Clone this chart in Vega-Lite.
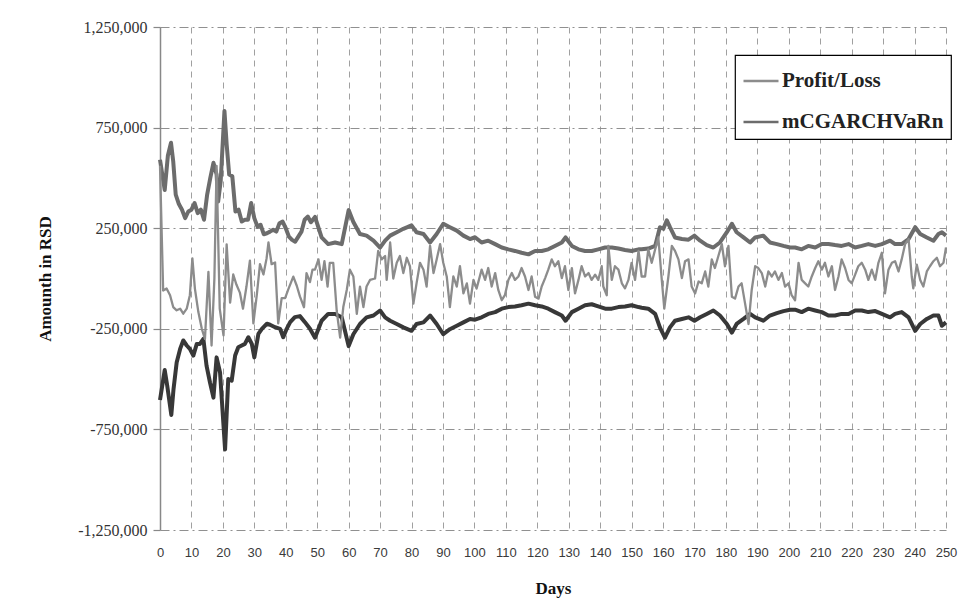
{
  "$schema": "https://vega.github.io/schema/vega-lite/v6.json",
  "width": 786,
  "height": 503,
  "autosize": {"type": "none"},
  "padding": {"left": 160, "top": 27, "right": 19, "bottom": 83},
  "background": "white",
  "datasets": {
    "up": [
      {"d":0,"v":590000},{"d":1.5,"v":440000},{"d":2.5,"v":610000},{"d":3.5,"v":675000},{"d":4.2,"v":583000},{"d":5,"v":417000},{"d":6,"v":370000},{"d":7,"v":342000},{"d":8,"v":300000},{"d":9,"v":333000},{"d":10,"v":342000},{"d":11,"v":375000},{"d":12,"v":325000},{"d":13,"v":342000},{"d":14,"v":292000},{"d":15,"v":417000},{"d":16,"v":500000},{"d":17,"v":575000},{"d":18,"v":517000},{"d":18.5,"v":383000},{"d":19.3,"v":483000},{"d":20.5,"v":833000},{"d":21.2,"v":667000},{"d":22,"v":517000},{"d":23,"v":508000},{"d":24,"v":333000},{"d":25,"v":342000},{"d":26,"v":283000},{"d":27,"v":292000},{"d":28,"v":292000},{"d":29,"v":375000},{"d":30,"v":300000},{"d":31,"v":258000},{"d":32,"v":267000},{"d":33,"v":220000},{"d":34,"v":225000},{"d":35,"v":233000},{"d":36,"v":242000},{"d":37,"v":233000},{"d":38,"v":275000},{"d":39,"v":283000},{"d":40,"v":250000},{"d":41,"v":208000},{"d":42,"v":192000},{"d":43,"v":183000},{"d":44,"v":208000},{"d":45,"v":233000},{"d":46,"v":292000},{"d":47,"v":308000},{"d":48,"v":280000},{"d":49.3,"v":306000},{"d":51.4,"v":204000},{"d":53.5,"v":171000},{"d":55.7,"v":179000},{"d":57.8,"v":171000},{"d":60,"v":340000},{"d":61.5,"v":281000},{"d":63.6,"v":221000},{"d":65.7,"v":213000},{"d":67.9,"v":188000},{"d":70,"v":154000},{"d":71.6,"v":188000},{"d":73.2,"v":213000},{"d":75.3,"v":230000},{"d":77.4,"v":247000},{"d":80,"v":264000},{"d":81.6,"v":230000},{"d":83.8,"v":221000},{"d":85.9,"v":179000},{"d":88,"v":221000},{"d":90.1,"v":272000},{"d":92.2,"v":255000},{"d":94.4,"v":238000},{"d":96.5,"v":213000},{"d":98.6,"v":196000},{"d":100.2,"v":205000},{"d":102.3,"v":179000},{"d":104.4,"v":188000},{"d":106.6,"v":171000},{"d":108.7,"v":154000},{"d":110.8,"v":145000},{"d":112.9,"v":137000},{"d":115,"v":128000},{"d":117.2,"v":120000},{"d":119.3,"v":137000},{"d":121.4,"v":137000},{"d":123.5,"v":145000},{"d":125.6,"v":162000},{"d":127.8,"v":179000},{"d":129,"v":204000},{"d":131,"v":162000},{"d":133.1,"v":145000},{"d":135.2,"v":137000},{"d":137.3,"v":137000},{"d":139.4,"v":145000},{"d":141.6,"v":154000},{"d":143.7,"v":154000},{"d":145.8,"v":149000},{"d":147.9,"v":142000},{"d":150,"v":137000},{"d":152.2,"v":145000},{"d":153.2,"v":145000},{"d":155.3,"v":149000},{"d":157.5,"v":162000},{"d":159,"v":255000},{"d":160.1,"v":247000},{"d":161.2,"v":289000},{"d":162.2,"v":255000},{"d":163.8,"v":204000},{"d":166,"v":196000},{"d":168.1,"v":193000},{"d":170,"v":213000},{"d":171.8,"v":188000},{"d":173.9,"v":166000},{"d":176,"v":154000},{"d":178.1,"v":179000},{"d":180.3,"v":230000},{"d":181.9,"v":272000},{"d":183.4,"v":230000},{"d":185.6,"v":204000},{"d":187.7,"v":179000},{"d":189.3,"v":204000},{"d":191.9,"v":213000},{"d":194,"v":179000},{"d":196.2,"v":171000},{"d":198.3,"v":162000},{"d":200.4,"v":154000},{"d":202,"v":154000},{"d":204.1,"v":145000},{"d":206.2,"v":162000},{"d":208.4,"v":154000},{"d":210.5,"v":171000},{"d":212.6,"v":171000},{"d":214.7,"v":166000},{"d":216.8,"v":162000},{"d":219,"v":171000},{"d":221.1,"v":154000},{"d":223.2,"v":162000},{"d":225.3,"v":171000},{"d":227.5,"v":162000},{"d":229.6,"v":171000},{"d":232.2,"v":188000},{"d":233.8,"v":171000},{"d":235.9,"v":171000},{"d":238.1,"v":196000},{"d":240.2,"v":255000},{"d":241.8,"v":221000},{"d":243.9,"v":204000},{"d":246,"v":188000},{"d":247.6,"v":221000},{"d":248.7,"v":230000},{"d":250,"v":213000}
    ],
    "lo": [
      {"d":0,"v":-604000},{"d":1.5,"v":-455000},{"d":2.3,"v":-533000},{"d":3.6,"v":-678000},{"d":4.3,"v":-550000},{"d":5.3,"v":-417000},{"d":6.4,"v":-350000},{"d":7.4,"v":-308000},{"d":8.5,"v":-333000},{"d":9.5,"v":-350000},{"d":10.6,"v":-383000},{"d":11.7,"v":-325000},{"d":12.7,"v":-325000},{"d":13.8,"v":-300000},{"d":14.8,"v":-433000},{"d":15.9,"v":-517000},{"d":17,"v":-592000},{"d":18,"v":-392000},{"d":19.1,"v":-467000},{"d":20.7,"v":-850000},{"d":21.7,"v":-500000},{"d":22.8,"v":-508000},{"d":23.9,"v":-383000},{"d":24.9,"v":-342000},{"d":26,"v":-333000},{"d":27,"v":-325000},{"d":28.1,"v":-292000},{"d":29.2,"v":-325000},{"d":30,"v":-392000},{"d":31.3,"v":-275000},{"d":32.4,"v":-250000},{"d":34,"v":-225000},{"d":35,"v":-230000},{"d":36.6,"v":-242000},{"d":38.2,"v":-250000},{"d":39.2,"v":-292000},{"d":40.3,"v":-250000},{"d":41.4,"v":-217000},{"d":42.9,"v":-192000},{"d":44.5,"v":-187000},{"d":46.1,"v":-217000},{"d":47.7,"v":-250000},{"d":49.3,"v":-294000},{"d":51.4,"v":-210000},{"d":53.5,"v":-176000},{"d":55.7,"v":-176000},{"d":57.8,"v":-193000},{"d":60,"v":-336000},{"d":61.5,"v":-277000},{"d":63.6,"v":-226000},{"d":65.7,"v":-193000},{"d":67.9,"v":-184000},{"d":70,"v":-159000},{"d":71.6,"v":-193000},{"d":73.2,"v":-210000},{"d":75.3,"v":-226000},{"d":77.4,"v":-243000},{"d":80,"v":-260000},{"d":81.6,"v":-226000},{"d":83.8,"v":-218000},{"d":85.9,"v":-184000},{"d":88,"v":-226000},{"d":90.1,"v":-277000},{"d":92.2,"v":-252000},{"d":94.4,"v":-235000},{"d":96.5,"v":-218000},{"d":98.6,"v":-201000},{"d":100.2,"v":-205000},{"d":102.3,"v":-193000},{"d":104.4,"v":-176000},{"d":106.6,"v":-167000},{"d":108.7,"v":-150000},{"d":110.8,"v":-142000},{"d":112.9,"v":-139000},{"d":115,"v":-133000},{"d":117.2,"v":-125000},{"d":119.3,"v":-133000},{"d":121.4,"v":-139000},{"d":123.5,"v":-150000},{"d":125.6,"v":-167000},{"d":127.8,"v":-184000},{"d":129,"v":-210000},{"d":131,"v":-167000},{"d":133.1,"v":-150000},{"d":135.2,"v":-133000},{"d":137.3,"v":-128000},{"d":139.4,"v":-139000},{"d":141.6,"v":-150000},{"d":143.7,"v":-150000},{"d":145.8,"v":-142000},{"d":147.9,"v":-139000},{"d":150,"v":-133000},{"d":152.2,"v":-142000},{"d":153.2,"v":-145000},{"d":155.3,"v":-150000},{"d":157.5,"v":-176000},{"d":159,"v":-243000},{"d":160.6,"v":-294000},{"d":162.2,"v":-243000},{"d":163.8,"v":-210000},{"d":166,"v":-201000},{"d":168.1,"v":-193000},{"d":170,"v":-210000},{"d":171.8,"v":-193000},{"d":173.9,"v":-176000},{"d":176,"v":-159000},{"d":178.1,"v":-184000},{"d":180.3,"v":-226000},{"d":181.9,"v":-269000},{"d":183.4,"v":-226000},{"d":185.6,"v":-201000},{"d":187.7,"v":-176000},{"d":189.3,"v":-193000},{"d":191.9,"v":-210000},{"d":194,"v":-184000},{"d":196.2,"v":-172000},{"d":198.3,"v":-162000},{"d":200.4,"v":-155000},{"d":202,"v":-155000},{"d":204.1,"v":-167000},{"d":206.2,"v":-150000},{"d":208.4,"v":-159000},{"d":210.5,"v":-167000},{"d":212.6,"v":-184000},{"d":214.7,"v":-184000},{"d":216.8,"v":-176000},{"d":219,"v":-176000},{"d":221.1,"v":-159000},{"d":223.2,"v":-159000},{"d":225.3,"v":-167000},{"d":227.5,"v":-162000},{"d":229.6,"v":-176000},{"d":232.2,"v":-193000},{"d":233.8,"v":-176000},{"d":235.9,"v":-167000},{"d":238.1,"v":-193000},{"d":240.2,"v":-260000},{"d":241.8,"v":-226000},{"d":243.9,"v":-201000},{"d":246,"v":-184000},{"d":247.6,"v":-184000},{"d":248.7,"v":-235000},{"d":250,"v":-218000}
    ],
    "pl": [
      {"d":0,"v":560000},{"d":1,"v":-60000},{"d":2.1,"v":-50000},{"d":3.2,"v":-83000},{"d":4.2,"v":-142000},{"d":5.3,"v":-158000},{"d":6.4,"v":-150000},{"d":7.4,"v":-175000},{"d":8.5,"v":-150000},{"d":9.5,"v":-83000},{"d":10.3,"v":100000},{"d":11.1,"v":-50000},{"d":12.2,"v":-167000},{"d":13.3,"v":-250000},{"d":14.3,"v":-300000},{"d":15.4,"v":33000},{"d":16.4,"v":-333000},{"d":17.3,"v":0},{"d":18,"v":560000},{"d":19,"v":-150000},{"d":20.2,"v":-283000},{"d":21.2,"v":170000},{"d":22.3,"v":-120000},{"d":23.3,"v":20000},{"d":24.3,"v":-30000},{"d":25.4,"v":-70000},{"d":26.4,"v":-150000},{"d":27.5,"v":-40000},{"d":28.6,"v":89000},{"d":29.7,"v":-223000},{"d":30.8,"v":-80000},{"d":31.8,"v":71000},{"d":32.9,"v":20000},{"d":33.9,"v":100000},{"d":34.5,"v":179000},{"d":35.5,"v":71000},{"d":36.6,"v":80000},{"d":37.6,"v":-223000},{"d":38.7,"v":-98000},{"d":39.8,"v":-98000},{"d":40.8,"v":-54000},{"d":42.4,"v":9000},{"d":43.5,"v":-36000},{"d":44.5,"v":-89000},{"d":45.8,"v":-143000},{"d":46.6,"v":27000},{"d":47.7,"v":-18000},{"d":48.5,"v":44000},{"d":49.3,"v":44000},{"d":50.4,"v":95000},{"d":51.4,"v":-7000},{"d":52.3,"v":86000},{"d":53.3,"v":-40000},{"d":54,"v":78000},{"d":55.1,"v":78000},{"d":56.2,"v":-159000},{"d":57.3,"v":-294000},{"d":58.3,"v":-142000},{"d":59.4,"v":-57000},{"d":60.4,"v":44000},{"d":61.5,"v":10000},{"d":62.6,"v":-176000},{"d":63.6,"v":-40000},{"d":64.7,"v":-142000},{"d":65.7,"v":-40000},{"d":66.8,"v":-7000},{"d":68.4,"v":0},{"d":69.4,"v":137000},{"d":70.5,"v":95000},{"d":71.6,"v":112000},{"d":72.1,"v":-7000},{"d":73.2,"v":179000},{"d":74.2,"v":0},{"d":75.3,"v":78000},{"d":76.3,"v":112000},{"d":77.4,"v":27000},{"d":78.5,"v":103000},{"d":79.5,"v":61000},{"d":80.6,"v":-125000},{"d":81.6,"v":-24000},{"d":82.7,"v":78000},{"d":83.8,"v":44000},{"d":84.8,"v":-40000},{"d":85.9,"v":162000},{"d":87,"v":27000},{"d":88,"v":95000},{"d":89.1,"v":171000},{"d":90.1,"v":78000},{"d":91.2,"v":10000},{"d":92.2,"v":-142000},{"d":93.3,"v":10000},{"d":94.4,"v":-40000},{"d":95.4,"v":61000},{"d":96.5,"v":-74000},{"d":97.6,"v":-24000},{"d":98.6,"v":-125000},{"d":99.7,"v":-7000},{"d":100.7,"v":-50000},{"d":102.3,"v":44000},{"d":103.4,"v":-7000},{"d":104.4,"v":52000},{"d":105.5,"v":-40000},{"d":106.6,"v":27000},{"d":107.6,"v":-57000},{"d":108.7,"v":-108000},{"d":109.7,"v":-83000},{"d":110.8,"v":-7000},{"d":111.9,"v":27000},{"d":112.9,"v":-7000},{"d":114,"v":10000},{"d":115,"v":52000},{"d":116.1,"v":10000},{"d":117.2,"v":-57000},{"d":118.2,"v":10000},{"d":119.3,"v":-91000},{"d":120.4,"v":-100000},{"d":121.4,"v":-40000},{"d":122.5,"v":2000},{"d":123.5,"v":44000},{"d":124.6,"v":95000},{"d":125.6,"v":61000},{"d":126.7,"v":86000},{"d":127.8,"v":2000},{"d":128.8,"v":61000},{"d":129.9,"v":-57000},{"d":131,"v":52000},{"d":132,"v":-74000},{"d":133.1,"v":-7000},{"d":134.1,"v":61000},{"d":135.2,"v":10000},{"d":136.3,"v":27000},{"d":137.3,"v":-7000},{"d":138.4,"v":19000},{"d":139.4,"v":-7000},{"d":140.5,"v":61000},{"d":141,"v":-40000},{"d":142.1,"v":-83000},{"d":142.6,"v":162000},{"d":143.7,"v":-7000},{"d":144.7,"v":61000},{"d":145.8,"v":44000},{"d":146.9,"v":-24000},{"d":147.9,"v":-49000},{"d":149,"v":-7000},{"d":150,"v":78000},{"d":151.1,"v":-7000},{"d":152.2,"v":137000},{"d":153.2,"v":10000},{"d":154.3,"v":10000},{"d":155.3,"v":145000},{"d":156.4,"v":78000},{"d":157.5,"v":145000},{"d":158.5,"v":204000},{"d":159.6,"v":-7000},{"d":160.4,"v":-150000},{"d":161.7,"v":10000},{"d":162.8,"v":162000},{"d":163.8,"v":137000},{"d":164.9,"v":95000},{"d":166,"v":2000},{"d":167,"v":86000},{"d":168.1,"v":95000},{"d":169.1,"v":-40000},{"d":170.2,"v":-74000},{"d":171.3,"v":-15000},{"d":172.3,"v":-24000},{"d":173.4,"v":35000},{"d":174.4,"v":-40000},{"d":175.5,"v":95000},{"d":176.5,"v":52000},{"d":177.6,"v":112000},{"d":178.7,"v":171000},{"d":179.7,"v":61000},{"d":180.8,"v":162000},{"d":181.9,"v":-91000},{"d":182.9,"v":-100000},{"d":184,"v":-40000},{"d":185,"v":-24000},{"d":186.1,"v":-125000},{"d":187.2,"v":-226000},{"d":188.2,"v":-57000},{"d":189.3,"v":61000},{"d":190.3,"v":52000},{"d":191.4,"v":27000},{"d":192.5,"v":-40000},{"d":193.5,"v":35000},{"d":194.6,"v":10000},{"d":195.6,"v":35000},{"d":196.7,"v":-7000},{"d":197.8,"v":27000},{"d":198.8,"v":-40000},{"d":199.9,"v":-24000},{"d":200.9,"v":-83000},{"d":202,"v":-108000},{"d":203.1,"v":78000},{"d":204.1,"v":-7000},{"d":205.2,"v":-24000},{"d":206.2,"v":-40000},{"d":207.3,"v":10000},{"d":208.4,"v":52000},{"d":209.4,"v":86000},{"d":210.5,"v":44000},{"d":211.5,"v":78000},{"d":212.6,"v":10000},{"d":213.7,"v":61000},{"d":214.7,"v":-57000},{"d":215.8,"v":10000},{"d":216.8,"v":95000},{"d":217.9,"v":52000},{"d":219,"v":-7000},{"d":220,"v":-24000},{"d":221.1,"v":19000},{"d":222.1,"v":61000},{"d":223.2,"v":78000},{"d":224.3,"v":44000},{"d":225.3,"v":-7000},{"d":226.4,"v":44000},{"d":227.5,"v":-7000},{"d":228.5,"v":78000},{"d":229.6,"v":128000},{"d":230.6,"v":-74000},{"d":231.7,"v":44000},{"d":232.8,"v":78000},{"d":233.8,"v":86000},{"d":234.9,"v":35000},{"d":235.9,"v":95000},{"d":237,"v":171000},{"d":238.1,"v":196000},{"d":239.1,"v":10000},{"d":239.6,"v":-49000},{"d":240.7,"v":69000},{"d":241.8,"v":-7000},{"d":242.8,"v":-40000},{"d":243.9,"v":35000},{"d":244.9,"v":61000},{"d":246,"v":86000},{"d":247.1,"v":103000},{"d":248.1,"v":61000},{"d":249.2,"v":78000},{"d":250,"v":154000}
    ]
  },
  "encoding": {
    "x": {
      "field": "d", "type": "quantitative",
      "scale": {"domain": [0, 250], "nice": false, "zero": false},
      "axis": {
        "title": "Days", "values": [0,10,20,30,40,50,60,70,80,90,100,110,120,130,140,150,160,170,180,190,200,210,220,230,240,250],
        "labelOverlap": false, "labelFlush": false,
        "domain": false, "ticks": false, "labelPadding": 16,
        "labelFont": "Liberation Sans", "labelFontSize": 13, "labelColor": "#3a3a3a",
        "grid": true, "gridDash": [6, 5], "gridColor": "#a0a0a0", "gridWidth": 1,
        "titleFont": "Liberation Serif", "titleFontSize": 17, "titleFontWeight": "bold", "titleColor": "#111111",
        "titleY": 58, "titleBaseline": "middle"
      }
    },
    "y": {
      "field": "v", "type": "quantitative",
      "scale": {"domain": [-1250000, 1250000], "nice": false, "zero": false},
      "axis": {
        "title": "Amounth in RSD", "values": [-1250000, -750000, -250000, 250000, 750000, 1250000],
        "format": ",d", "labelExpr": "replace(datum.label, '\u2212', '-')",
        "labelOverlap": false, "labelFlush": false,
        "domain": true, "domainColor": "#888888", "domainWidth": 1.5,
        "ticks": true, "tickSize": 7, "tickColor": "#888888", "tickWidth": 1.2, "labelPadding": 6,
        "labelFont": "Liberation Serif", "labelFontSize": 16, "labelColor": "#333333",
        "grid": true, "gridDash": [9, 4, 2, 4], "gridColor": "#909090", "gridWidth": 1,
        "titleFont": "Liberation Serif", "titleFontSize": 17, "titleFontWeight": "bold", "titleColor": "#111111",
        "titleX": -115, "titleBaseline": "middle"
      }
    }
  },
  "layer": [
    {
      "mark": {"type": "rule", "color": "#8c8c8c", "strokeWidth": 1.5},
      "encoding": {"y": {"datum": 0}, "x": {"value": 0}, "x2": {"value": 786}}
    },
    {
      "data": {"name": "lo"},
      "mark": {"type": "line", "color": "#383838", "strokeWidth": 4, "strokeJoin": "round"},
      "encoding": {}
    },
    {
      "data": {"name": "up"},
      "mark": {"type": "line", "strokeWidth": 4, "strokeJoin": "round"},
      "encoding": {"color": {"datum": "mCGARCHVaRn", "type": "nominal", "scale": {"domain": ["Profit/Loss", "mCGARCHVaRn"], "range": ["#8c8c8c", "#6c6c6c"]}}}
    },
    {
      "data": {"name": "pl"},
      "mark": {"type": "line", "strokeWidth": 2.3, "strokeJoin": "round"},
      "encoding": {"color": {"datum": "Profit/Loss", "type": "nominal", "scale": {"domain": ["Profit/Loss", "mCGARCHVaRn"], "range": ["#8c8c8c", "#6c6c6c"]}}}
    }
  ],
  "resolve": {"scale": {"color": "shared"}},
  "config": {
    "view": {"stroke": null},
    "legend": {
      "orient": "none", "legendX": 575, "legendY": 28, "title": null,
      "fillColor": "white", "strokeColor": "#000000", "strokeWidth": 1.2,
      "padding": 7, "symbolType": "stroke", "symbolSize": 1225, "symbolStrokeWidth": 2.5,
      "labelFont": "Liberation Serif", "labelFontSize": 21, "labelFontWeight": "bold", "labelColor": "#222222",
      "labelOffset": 2, "rowPadding": 12, "labelLimit": 400
    }
  }
}
